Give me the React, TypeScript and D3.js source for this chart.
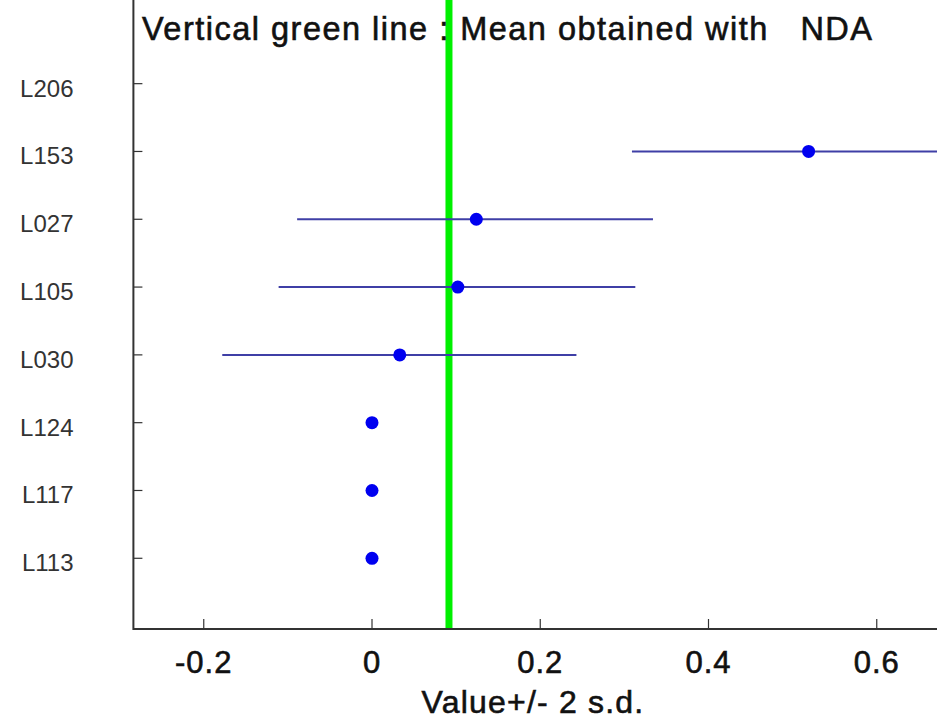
import React from "react";
import * as d3 from "d3";

const labels = ["L206", "L153", "L027", "L105", "L030", "L124", "L117", "L113"];
const means: (number | null)[] = [null, 0.519, 0.124, 0.102, 0.033, 0, 0, 0];
const lower: (number | null)[] = [null, 0.309, -0.089, -0.111, -0.178, null, null, null];
const upper: (number | null)[] = [null, 0.730, 0.334, 0.313, 0.243, null, null, null];
const meanNDA = 0.0915;
const xTicks = [-0.2, 0, 0.2, 0.4, 0.6];
const xTickLabels = ["-0.2", "0", "0.2", "0.4", "0.6"];
const title = "Vertical green line : Mean obtained with   NDA";
const xLabel = "Value+/- 2 s.d.";

export default function App() {
  const W = 937;
  const H = 725;
  const left = 133.4;
  const bottom = 629;
  const x = d3.scaleLinear().domain([-0.28363, 0.67162]).range([left, W]);
  const y = d3.scaleLinear().domain([-0.043, 9.234]).range([bottom, 0]);
  const rowPos = (i: number) => labels.length - i; // L113 -> 1, L206 -> 8
  const font = "'Liberation Sans', Arial, Helvetica, sans-serif";
  const axisColor = "#333";

  return (
    <svg
      width={W}
      height={H}
      viewBox={`0 0 ${W} ${H}`}
      style={{ position: "absolute", left: 0, top: 0, background: "#fff" }}
    >
      <rect x={0} y={0} width={W} height={H} fill="#fff" />
      <defs>
        <clipPath id="plot">
          <rect x={left} y={0} width={W - left} height={bottom} />
        </clipPath>
      </defs>

      {/* green NDA mean line */}
      <line
        x1={x(meanNDA)}
        x2={x(meanNDA)}
        y1={0}
        y2={bottom}
        stroke="#00f000"
        strokeWidth={7}
      />

      {/* error bars and points */}
      <g clipPath="url(#plot)">
        {labels.map((lab, i) => {
          const lo = lower[i];
          const hi = upper[i];
          if (lo == null || hi == null) return null;
          return (
            <line
              key={"e" + lab}
              x1={x(lo)}
              x2={x(hi)}
              y1={y(rowPos(i))}
              y2={y(rowPos(i))}
              stroke="#3f3fa6"
              strokeWidth={2}
            />
          );
        })}
        {labels.map((lab, i) => {
          const m = means[i];
          if (m == null) return null;
          return (
            <circle
              key={"p" + lab}
              cx={x(m)}
              cy={y(rowPos(i))}
              r={6.5}
              fill="#0000f0"
            />
          );
        })}
      </g>

      {/* axes */}
      <line x1={left} x2={left} y1={0} y2={bottom + 1} stroke={axisColor} strokeWidth={2} />
      <line x1={left} x2={W} y1={bottom} y2={bottom} stroke={axisColor} strokeWidth={2} />

      {/* y ticks and labels */}
      {labels.map((lab, i) => (
        <g key={"y" + lab}>
          <line
            x1={left}
            x2={left + 9}
            y1={y(rowPos(i))}
            y2={y(rowPos(i))}
            stroke={axisColor}
            strokeWidth={1.2}
          />
          <text
            x={73.5}
            y={y(rowPos(i)) + 13}
            textAnchor="end"
            fontFamily={font}
            fontSize={24}
            fill="#333"
          >
            {lab}
          </text>
        </g>
      ))}

      {/* x ticks and labels */}
      {xTicks.map((t, i) => (
        <g key={"x" + t}>
          <line
            x1={x(t)}
            x2={x(t)}
            y1={bottom}
            y2={bottom - 10}
            stroke={axisColor}
            strokeWidth={1.2}
          />
          <text
            x={x(t)}
            y={673}
            textAnchor="middle"
            fontFamily={font}
            fontSize={31}
            letterSpacing={1}
            fill="#111"
            stroke="#111"
            strokeWidth={0.6}
          >
            {xTickLabels[i]}
          </text>
        </g>
      ))}

      {/* x label */}
      <text
        x={533}
        y={712.5}
        textAnchor="middle"
        fontFamily={font}
        fontSize={32}
        letterSpacing={1.2}
        fill="#111"
        stroke="#111"
        strokeWidth={0.6}
      >
        {xLabel}
      </text>

      {/* title */}
      <text
        x={142}
        y={39.5}
        fontFamily={font}
        fontSize={32.5}
        fill="#111"
        stroke="#111"
        strokeWidth={0.6}
        textLength={730}
        lengthAdjust="spacing"
        style={{ whiteSpace: "pre" }}
      >
        {title}
      </text>
    </svg>
  );
}
